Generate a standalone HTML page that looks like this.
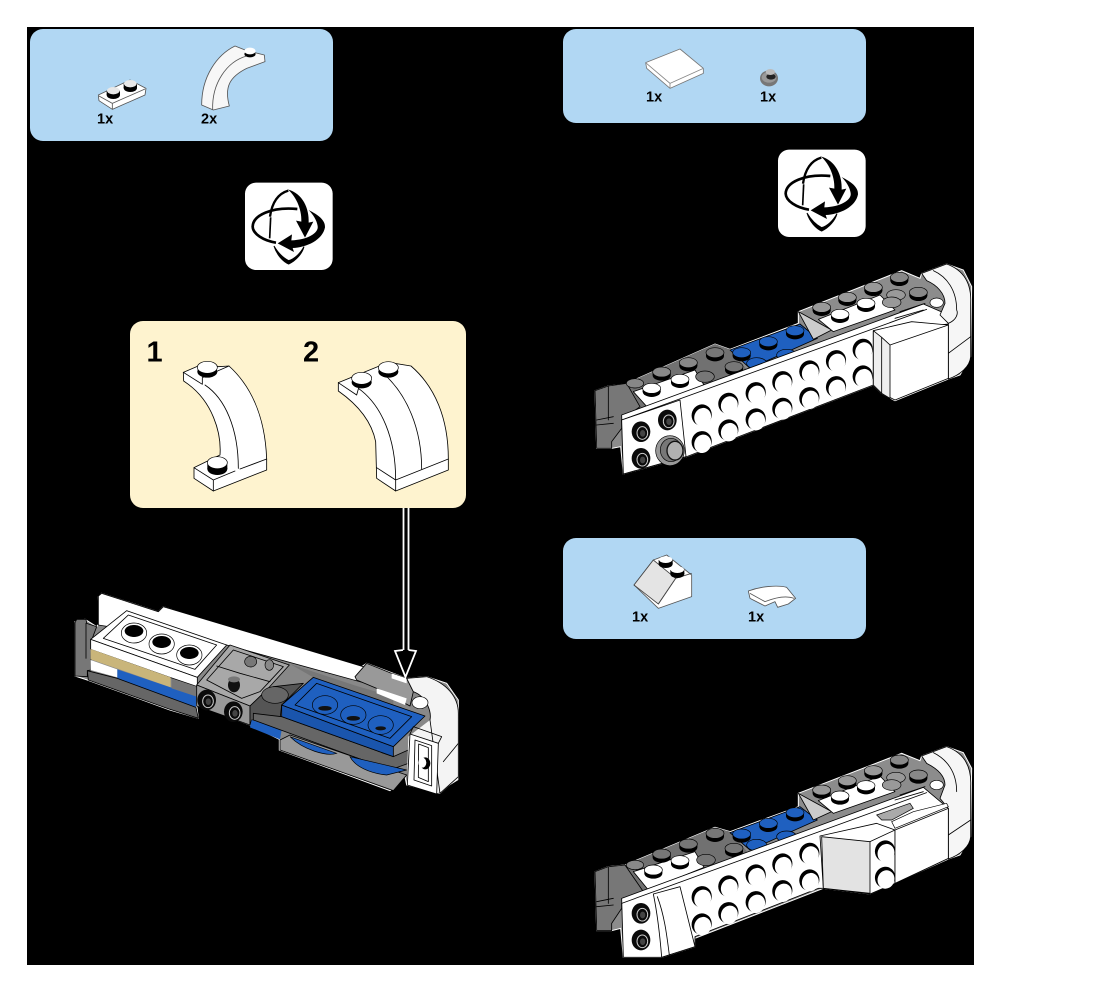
<!DOCTYPE html>
<html><head><meta charset="utf-8"><style>
html,body{margin:0;padding:0;background:#fff}
svg{display:block}
text{font-family:"Liberation Sans",sans-serif;font-weight:bold;fill:#000}
.l{stroke:#000;stroke-width:2.5;stroke-linejoin:round;stroke-linecap:round}
.n{fill:none;stroke:#000;stroke-width:2.5;stroke-linejoin:round;stroke-linecap:round}
.g{stroke:#555;stroke-width:2.5;stroke-linejoin:round}
.gn{fill:none;stroke:#555;stroke-width:2.5;stroke-linejoin:round}
</style></head><body>
<svg width="1106" height="992" viewBox="0 0 1106 992" xmlns="http://www.w3.org/2000/svg">
<defs>
<g id="ts"><ellipse cy="10" rx="27" ry="16" fill="#000"/><rect x="-27" width="54" height="10" fill="#000"/><ellipse rx="27" ry="15" stroke="#000" stroke-width="2"/></g>
<g id="hs"><ellipse rx="30" ry="32" fill="#000" transform="rotate(20)"/><ellipse cx="5" cy="5" rx="25" ry="28" fill="#fff" transform="rotate(20)"/></g>
<g id="tk"><ellipse rx="28" ry="31" fill="#0a0a0a"/><ellipse cx="4" cy="4" rx="16" ry="19" fill="none" stroke="#ccc" stroke-width="3"/><ellipse cx="5" cy="5" rx="8" ry="10" fill="#444"/></g>
<g id="rg"><ellipse cy="4" rx="38" ry="30" stroke="#000" stroke-width="2"/><ellipse cy="-2" rx="27" ry="17" stroke="#000" stroke-width="2" fill="#000"/></g>
<g id="rot">
<rect x="675" y="488" width="263" height="262" rx="33" fill="#fff"/>
<path d="M805 512C770 522 755 555 750 590" fill="none" stroke="#000" stroke-width="7"/>
<path d="M752 592L749 655" fill="none" stroke="#000" stroke-width="5"/>
<path d="M803 508C848 520 868 565 866 608L880 605L855 653L828 602L844 605C846 565 825 525 803 508Z" fill="#000"/>
<path d="M762 678C770 705 790 725 806 732C828 722 847 700 852 680C840 702 822 718 806 722C790 714 775 700 762 678Z" fill="#000" stroke="#000" stroke-width="3"/>
<path d="M832 567C755 560 699 585 698 620C699 642 730 662 768 668" fill="none" stroke="#000" stroke-width="8"/>
<path d="M866 570C895 585 916 600 915 622C908 660 860 682 818 684L822 696L773 670L816 643L814 661C860 660 897 640 893 618C890 600 880 585 866 570Z" fill="#000"/>
</g>
</defs>

<rect x="27" y="27" width="947" height="938" fill="#000"/>

<rect x="30" y="29" width="303" height="112" rx="13" fill="#b1d7f3"/>
<rect x="563" y="29" width="303" height="94" rx="13" fill="#b1d7f3"/>
<rect x="563" y="538" width="303" height="101" rx="13" fill="#b1d7f3"/>
<rect x="130" y="321" width="336" height="187" rx="13" fill="#fef3cf"/>

<g transform="translate(20,20) scale(.33333)"><use href="#rot"/></g>
<g transform="translate(553,-13) scale(.33333)"><use href="#rot"/></g>

<!-- part: plate 1x2 + arch -->
<g transform="translate(20,20) scale(.33333)">
<path class="g" d="M235 225L330 180L378 205L375 225L277 268L237 242Z" fill="#fff"/>
<path class="gn" d="M237 228L277 250L375 207M277 250L277 268"/>
<ellipse cx="280" cy="225" rx="20" ry="12" fill="#000"/><rect x="260" y="212" width="40" height="13" fill="#000"/><ellipse cx="280" cy="212" rx="19" ry="11" fill="#e8e8e8"/>
<ellipse cx="331" cy="204" rx="20" ry="12" fill="#000"/><rect x="311" y="191" width="40" height="13" fill="#000"/><ellipse cx="331" cy="191" rx="19" ry="11" fill="#e8e8e8"/>
<path class="g" d="M545 255C545 170 590 105 645 78L680 92L733 105L735 125L680 145C630 170 612 200 628 258L580 270Z" fill="#f7f7f7"/>
<path class="gn" d="M578 270C575 190 620 125 680 108"/>
<ellipse cx="690" cy="102" rx="17" ry="10" fill="#000"/><ellipse cx="690" cy="93" rx="17" ry="10" fill="#fff"/>
</g>

<!-- part: tile and round -->
<g transform="translate(555,20) scale(.33333)">
<path class="g" d="M272 128L375 87L445 145L445 160L345 205L275 145Z" fill="#fff" style="stroke:#777"/>
<path d="M272 128L345 190L445 145M345 190L345 205" fill="none" stroke="#888" stroke-width="2.5"/>
<ellipse cx="642" cy="175" rx="27" ry="24" fill="#777"/>
<ellipse cx="642" cy="172" rx="22" ry="16" fill="#999"/>
<ellipse cx="648" cy="170" rx="14" ry="9" fill="#222"/>
<ellipse cx="646" cy="156" rx="14" ry="9" fill="#bbb"/>
</g>

<!-- part: slope and curve -->
<g transform="translate(555,530) scale(.33333)">
<path class="g" d="M237 165L295 90L335 75L410 135L410 200L310 235Z" fill="#fff"/>
<path d="M237 165L295 90L362 145L310 222Z" fill="#e4e4e4" stroke="#444" stroke-width="2.5"/>
<path d="M310 222L362 145L410 130" fill="none" stroke="#444" stroke-width="2.5"/>
<ellipse cx="332" cy="102" rx="21" ry="12" fill="#000"/><rect x="311" y="90" width="42" height="12" fill="#000"/><ellipse cx="332" cy="89" rx="20" ry="10" fill="#fff"/>
<ellipse cx="367" cy="132" rx="21" ry="12" fill="#000"/><rect x="346" y="120" width="42" height="12" fill="#000"/><ellipse cx="367" cy="119" rx="20" ry="10" fill="#fff"/>
<path class="g" d="M580 183C620 168 670 165 695 172L722 205L700 222L668 232L660 215L630 228L585 205Z" fill="#fff"/>
<path class="gn" d="M585 190L630 215C655 205 690 195 718 205"/>
</g>

<!-- build panel arches -->
<g transform="translate(125,315) scale(.33333)">
<path class="l" d="M175 172L245 142L280 155L312 153C375 210 420 300 425 432L425 465L265 528L207 490L207 458L285 420C290 350 260 260 190 208L176 198Z" fill="#fff"/>
<path class="n" d="M240 210C300 250 340 340 340 460M345 462L425 432M207 458L265 495L330 468M265 495L265 528M175 172L232 208L232 188L312 153"/>
<ellipse cx="247" cy="170" rx="30" ry="18" fill="#000"/><rect x="218" y="158" width="58" height="12" fill="#000"/>
<ellipse cx="247" cy="157" rx="30" ry="18" fill="#fff" stroke="#000" stroke-width="2"/>
<ellipse cx="277" cy="462" rx="30" ry="18" fill="#000"/><rect x="247" y="448" width="60" height="14" fill="#000"/>
<ellipse cx="277" cy="443" rx="30" ry="18" fill="#fff" stroke="#000" stroke-width="2"/>
<path class="l" d="M640 203L790 142L858 153C930 215 970 310 970 432L970 465L812 528L755 490L752 380C740 320 700 270 640 228Z" fill="#fff"/>
<path class="n" d="M700 220C770 270 812 370 812 495M780 180C845 240 890 340 890 462M812 495L970 432M755 458L812 495L812 528M640 203L695 240L700 222"/>
<ellipse cx="790" cy="170" rx="30" ry="18" fill="#000"/><ellipse cx="790" cy="158" rx="30" ry="18" fill="#fff" stroke="#000" stroke-width="2"/>
<ellipse cx="710" cy="202" rx="30" ry="18" fill="#000"/><ellipse cx="710" cy="190" rx="30" ry="18" fill="#fff" stroke="#000" stroke-width="2"/>
</g>

<!-- model 1 -->
<g transform="translate(60,580) scale(.33333)">
<path d="M115 50L125 40L295 95L310 80L890 270L920 250L1000 280L1040 295L1100 290L1160 310L1195 360L1195 590L1140 640L1040 615L1035 590L990 632L658 510L658 478L570 435L410 375L415 415L330 390L82 300L45 288L45 125L75 118L110 140L118 130Z" fill="#888" stroke="#fff" stroke-width="3"/>
<path class="l" d="M115 48L125 40L295 95L310 80L1010 290L1040 295L1045 345L500 195L115 135Z" fill="#fff"/>
<path class="l" d="M45 128L50 118L78 118L80 130L110 140L95 180L92 270L82 272L82 290L45 288Z" fill="#777"/>
<path class="n" d="M78 130L78 235"/>
<path class="l" d="M92 178L200 92L500 195L412 292Z" fill="#fff"/>
<path class="n" d="M130 175L205 105L470 195L405 268Z" stroke-width="2"/>
<use href="#rg" x="222" y="155" fill="#fff"/><use href="#rg" x="305" y="188" fill="#fff"/><use href="#rg" x="388" y="221" fill="#fff"/>
<path class="l" d="M92 178L412 292L412 320L330 292L92 208Z" fill="#fff"/>
<path d="M92 207L332 292L332 322L92 238Z" fill="#c9b57a"/>
<path d="M92 240L172 268L172 292L92 270Z" fill="#fff"/>
<path d="M172 268L408 348L408 382L172 298Z" fill="#1f60c0"/>
<path d="M335 295L410 320L410 350L335 325Z" fill="#777"/>
<path class="l" d="M82 272L172 295L408 382L415 415L330 388L85 300Z" fill="#666"/>
<path class="l" d="M410 315L510 195L688 255L620 330L570 378Z" fill="#a8a8a8"/>
<path class="n" d="M440 300L520 210L670 260L600 335L545 355Z" stroke-width="2"/>
<path class="n" d="M470 258L540 280L630 305" stroke-width="2"/>
<ellipse cx="522" cy="315" rx="18" ry="22" fill="#111"/><ellipse cx="522" cy="298" rx="18" ry="9" fill="#777"/>
<ellipse cx="572" cy="245" rx="18" ry="16" fill="#777" stroke="#000" stroke-width="2"/>
<ellipse cx="628" cy="255" rx="13" ry="16" fill="#888" stroke="#000" stroke-width="2"/>
<path class="l" d="M410 315L570 378L570 435L410 378Z" fill="#999"/>
<use href="#tk" x="440" y="360"/><use href="#tk" x="520" y="395"/>
<path class="l" d="M570 378L620 330L640 320L730 310L665 375L660 420L575 420L570 435Z" fill="#555"/>
<ellipse cx="645" cy="345" rx="40" ry="25" fill="#666" stroke="#000" stroke-width="2"/>
<path d="M690 252L890 318L1000 350L1000 430L760 292Z" fill="#777"/>
<path d="M575 420L665 450L660 478L570 442Z" fill="#1f60c0"/>
<path class="l" d="M580 400L665 410L1000 530L1045 510L1045 550L990 570L580 420Z" fill="#666"/>
<path class="l" d="M660 480L690 465L1040 585L1000 632L660 510Z" fill="#999"/>
<path d="M690 470L830 520C800 530 730 510 690 470Z" fill="#1f60c0" stroke="#000" stroke-width="2"/>
<path d="M870 530L1040 570L980 585C930 580 885 560 870 530Z" fill="#1f60c0" stroke="#000" stroke-width="2"/>
<path d="M1045 470L1110 420L1195 420L1195 600L1130 640L1040 615Z" fill="#f4f4f4"/>
<path class="l" d="M665 375L1000 500L1000 530L665 410Z" fill="#1a55ad"/>
<path class="l" d="M665 375L760 292L1095 408L1000 500Z" fill="#1f60c0"/>
<path class="n" d="M705 375L770 310L1055 410L990 475Z" stroke-width="2"/>
<ellipse cx="795" cy="375" rx="38" ry="28" fill="#1f60c0" stroke="#000" stroke-width="2"/>
<ellipse cx="880" cy="405" rx="38" ry="28" fill="#1f60c0" stroke="#000" stroke-width="2"/>
<ellipse cx="962" cy="435" rx="38" ry="28" fill="#1f60c0" stroke="#000" stroke-width="2"/>
<ellipse cx="795" cy="385" rx="20" ry="7" fill="#111"/><ellipse cx="880" cy="415" rx="20" ry="7" fill="#111"/><ellipse cx="962" cy="445" rx="16" ry="6" fill="#111"/>
<path class="l" d="M885 290L920 250L995 280L1040 295L1060 335L1050 378L950 325L890 300Z" fill="#999"/>
<path d="M950 325L1040 355L1035 375L950 340Z" fill="#fff"/>
<path d="M995 280L1040 295L1040 310L995 295Z" fill="#fff"/>
<path class="l" d="M1040 295L1100 290C1160 310 1195 350 1195 400L1195 590L1140 640L1110 420C1115 395 1100 350 1060 335Z" fill="#f4f4f4"/>
<ellipse cx="1080" cy="368" rx="24" ry="18" fill="#fff" stroke="#000" stroke-width="2"/>
<path class="n" d="M1195 490L1150 545"/>
<path class="l" d="M1050 462L1135 490L1130 642L1042 615Z" fill="#fff"/>
<path class="n" d="M1050 462L1060 440L1145 470L1135 490" fill="#fff"/>
<path class="n" d="M1065 480L1115 497L1115 618L1062 600Z M1076 492L1105 503L1105 605L1075 592Z" stroke-width="2"/>
<ellipse cx="1096" cy="550" rx="15" ry="18" fill="#000"/><ellipse cx="1087" cy="548" rx="12" ry="15" fill="#fff"/>
</g>

<!-- arrow -->
<path d="M403.5 508V657M408.5 508V657" stroke="#fff" stroke-width="1.8" fill="none"/>
<path d="M403 650L395 651L405.5 677L416 651L408.5 650" fill="#000" stroke="#fff" stroke-width="1.8" stroke-linejoin="miter"/>

<!-- model 2 -->
<g transform="translate(580,260) scale(.33333)">
<path d="M45 392L85 378L135 372L405 252L450 268L655 190L655 155L965 32L1020 55L1025 40L1100 12L1150 30L1175 80L1172 290L1140 345L1105 357L945 422L905 400L880 375L320 590L130 642L122 560L95 565L50 565Z" fill="#8c8c8c" stroke="#fff" stroke-width="3"/>
<path d="M405 252L450 268L510 340L180 455L135 372Z" fill="#717171"/>
<path class="l" d="M45 392L85 378L140 370L180 440L125 480L125 505L95 545L95 565L50 565Z" fill="#777"/>
<path class="n" d="M85 380L85 480M50 480L100 470M50 495L100 490"/>
<path class="l" d="M160 395L345 330L372 375L205 445Z" fill="#fff"/>
<path class="l" d="M450 270L660 192L712 235L510 325Z" fill="#1f60c0"/>
<path class="l" d="M655 155L755 210L700 238Z" fill="#ccc"/>
<path class="l" d="M715 178L900 105L945 150L760 215Z" fill="#fff"/>
<use href="#ts" x="215" y="385" fill="#fff"/><use href="#ts" x="300" y="358" fill="#fff"/>
<ellipse cx="165" cy="370" rx="26" ry="14" fill="#888" stroke="#000" stroke-width="2"/>
<use href="#ts" x="245" y="336" fill="#888"/><use href="#ts" x="325" y="308" fill="#888"/><use href="#ts" x="405" y="278" fill="#777"/><use href="#ts" x="462" y="320" fill="#777"/>
<ellipse cx="375" cy="350" rx="28" ry="17" fill="#777" stroke="#000" stroke-width="2"/>
<use href="#ts" x="485" y="278" fill="#1f60c0"/><use href="#ts" x="565" y="245" fill="#1f60c0"/><use href="#ts" x="645" y="212" fill="#1f60c0"/>
<ellipse cx="530" cy="310" rx="30" ry="17" fill="#1f60c0" stroke="#000" stroke-width="2"/>
<ellipse cx="620" cy="285" rx="30" ry="17" fill="#1f60c0" stroke="#000" stroke-width="2"/>
<use href="#ts" x="725" y="142" fill="#999"/><use href="#ts" x="802" y="112" fill="#999"/><use href="#ts" x="880" y="82" fill="#999"/><use href="#ts" x="958" y="52" fill="#888"/><use href="#ts" x="1015" y="97" fill="#888"/>
<ellipse cx="948" cy="105" rx="28" ry="16" fill="#999" stroke="#000" stroke-width="2"/><ellipse cx="935" cy="127" rx="28" ry="16" fill="#999" stroke="#000" stroke-width="2"/>
<use href="#ts" x="780" y="163" fill="#fff"/><use href="#ts" x="858" y="130" fill="#fff"/>
<path class="l" d="M125 465L1030 132L1095 160L1105 192L880 215L880 375L320 590L130 642Z" fill="#fff"/>
<path class="n" d="M125 480L1040 148"/>
<path class="l" d="M125 480L300 420L318 590L130 642Z" fill="#fff"/>
<use href="#hs" x="365" y="465"/><use href="#hs" x="445" y="430"/><use href="#hs" x="527" y="398"/><use href="#hs" x="607" y="365"/><use href="#hs" x="688" y="333"/><use href="#hs" x="768" y="302"/><use href="#hs" x="848" y="268"/>
<use href="#hs" x="365" y="545"/><use href="#hs" x="445" y="510"/><use href="#hs" x="527" y="477"/><use href="#hs" x="607" y="445"/><use href="#hs" x="688" y="413"/><use href="#hs" x="768" y="380"/><use href="#hs" x="848" y="348"/>
<use href="#tk" x="183" y="515"/><use href="#tk" x="262" y="480"/><use href="#tk" x="183" y="595"/>
<ellipse cx="270" cy="572" rx="43" ry="45" fill="#999" stroke="#000" stroke-width="2"/>
<ellipse cx="273" cy="570" rx="32" ry="35" fill="#777" stroke="#000" stroke-width="2"/>
<ellipse cx="285" cy="572" rx="24" ry="28" fill="#b0b0b0" stroke="#111" stroke-width="4"/>
<path class="l" d="M1025 40L1100 12C1150 30 1175 70 1172 130L1172 290C1170 320 1140 345 1105 357L1105 190L1080 165L1095 130C1095 100 1070 75 1040 62Z" fill="#f6f6f6"/>
<path class="n" d="M1060 32C1100 50 1130 90 1130 150M1105 280L1172 230M1105 190C1130 180 1135 160 1130 150"/>
<path class="l" d="M880 212L995 185L1105 195L1105 355L945 420L905 400L880 375Z" fill="#fff"/>
<path class="l" d="M880 212L905 232L930 255L930 415L905 400L880 375Z" fill="#eee"/>
<path class="n" d="M930 255L1105 195M905 232L905 400"/>
<ellipse cx="1070" cy="128" rx="20" ry="14" fill="#fff" stroke="#000" stroke-width="2"/>
<path class="n" d="M960 155L1035 130M945 175L1030 150"/>
</g>

<!-- model 3 -->
<g transform="translate(580,740) scale(.33333)">
<path d="M45 395L85 380L135 375L405 262L450 275L655 200L655 160L965 40L1020 62L1025 48L1100 20L1150 38L1175 85L1172 290L1140 345L1105 357L870 462L730 445L345 595L345 620L245 652L130 652L122 565L95 572L50 572Z" fill="#8c8c8c" stroke="#fff" stroke-width="3"/>
<path d="M405 262L450 275L510 345L180 460L135 375Z" fill="#717171"/>
<path class="l" d="M45 395L85 380L135 375L190 455L125 490L125 505L95 550L95 572L50 572Z" fill="#777"/>
<path class="n" d="M85 382L85 490M50 485L100 475M50 500L100 495"/>
<path class="l" d="M160 395L345 335L372 382L205 450Z" fill="#fff"/>
<path class="l" d="M450 278L660 200L712 240L510 330Z" fill="#1f60c0"/>
<path class="l" d="M655 160L755 215L700 240Z" fill="#ccc"/>
<path class="l" d="M715 182L900 108L945 155L760 220Z" fill="#fff"/>
<use href="#ts" x="220" y="390" fill="#fff"/><use href="#ts" x="300" y="362" fill="#fff"/>
<ellipse cx="165" cy="375" rx="26" ry="14" fill="#888" stroke="#000" stroke-width="2"/>
<use href="#ts" x="245" y="342" fill="#777"/><use href="#ts" x="325" y="312" fill="#777"/><use href="#ts" x="405" y="280" fill="#777"/><use href="#ts" x="462" y="325" fill="#777"/>
<ellipse cx="378" cy="360" rx="28" ry="17" fill="#777" stroke="#000" stroke-width="2"/>
<use href="#ts" x="485" y="282" fill="#1f60c0"/><use href="#ts" x="565" y="250" fill="#1f60c0"/><use href="#ts" x="645" y="218" fill="#1f60c0"/>
<ellipse cx="530" cy="315" rx="30" ry="17" fill="#1f60c0" stroke="#000" stroke-width="2"/>
<ellipse cx="620" cy="290" rx="30" ry="17" fill="#1f60c0" stroke="#000" stroke-width="2"/>
<use href="#ts" x="725" y="150" fill="#999"/><use href="#ts" x="802" y="122" fill="#999"/><use href="#ts" x="880" y="92" fill="#999"/><use href="#ts" x="958" y="60" fill="#888"/><use href="#ts" x="1015" y="105" fill="#888"/>
<ellipse cx="948" cy="113" rx="28" ry="16" fill="#999" stroke="#000" stroke-width="2"/><ellipse cx="935" cy="135" rx="28" ry="16" fill="#999" stroke="#000" stroke-width="2"/>
<use href="#ts" x="780" y="168" fill="#fff"/><use href="#ts" x="858" y="137" fill="#fff"/>
<path class="l" d="M125 475L1030 142L1105 205L1105 355L945 430L870 462L730 445L715 445L345 590L345 620L245 652L130 652Z" fill="#fff"/>
<path class="n" d="M125 490L1040 158"/>
<use href="#hs" x="365" y="470"/><use href="#hs" x="445" y="438"/><use href="#hs" x="527" y="405"/><use href="#hs" x="607" y="372"/><use href="#hs" x="688" y="340"/>
<use href="#hs" x="365" y="552"/><use href="#hs" x="445" y="518"/><use href="#hs" x="527" y="485"/><use href="#hs" x="607" y="452"/><use href="#hs" x="688" y="420"/>
<use href="#tk" x="183" y="520"/><use href="#tk" x="183" y="600"/>
<path class="l" d="M220 462L300 440L345 620L245 652C240 590 232 520 220 462Z" fill="#fff"/>
<path class="n" d="M232 470C255 530 262 600 268 645"/>
<path class="l" d="M720 288L890 250L945 270L945 430L870 462L730 445Z" fill="#fff"/>
<path class="l" d="M725 290L870 305L870 460L730 445Z" fill="#e3e3e3"/>
<path class="n" d="M870 305L945 270"/>
<use href="#hs" x="915" y="333"/><use href="#hs" x="915" y="412"/>
<path class="l" d="M1025 48L1100 20C1150 38 1175 78 1172 138L1172 290C1170 320 1140 345 1105 357L1105 205L1080 175L1095 135C1095 105 1070 85 1040 70Z" fill="#f6f6f6"/>
<path class="n" d="M1060 38C1100 58 1130 95 1130 155M1105 285L1172 240"/>
<path class="l" d="M945 270L1105 205L1105 355L945 430Z" fill="#fff"/>
<path d="M890 225L990 190L1000 205L935 240L905 240Z" fill="#aaa" stroke="#000" stroke-width="2"/>
<path d="M945 265L1105 200L1100 190L1000 215L935 245Z" fill="#fff" stroke="#000" stroke-width="2"/>
<ellipse cx="1070" cy="135" rx="20" ry="14" fill="#fff" stroke="#000" stroke-width="2"/>
<path class="n" d="M960 165L1035 140M945 180L1030 155"/>
</g>

<!-- labels -->
<text x="97" y="123.5" font-size="14.5">1x</text>
<text x="201" y="123.5" font-size="14.5">2x</text>
<text x="646" y="101.5" font-size="14.5">1x</text>
<text x="760" y="101.5" font-size="14.5">1x</text>
<text x="632" y="621.5" font-size="14.5">1x</text>
<text x="748" y="621.5" font-size="14.5">1x</text>
<text x="146.5" y="361.5" font-size="29">1</text>
<text x="303" y="361.5" font-size="29">2</text>
</svg>
</body></html>
